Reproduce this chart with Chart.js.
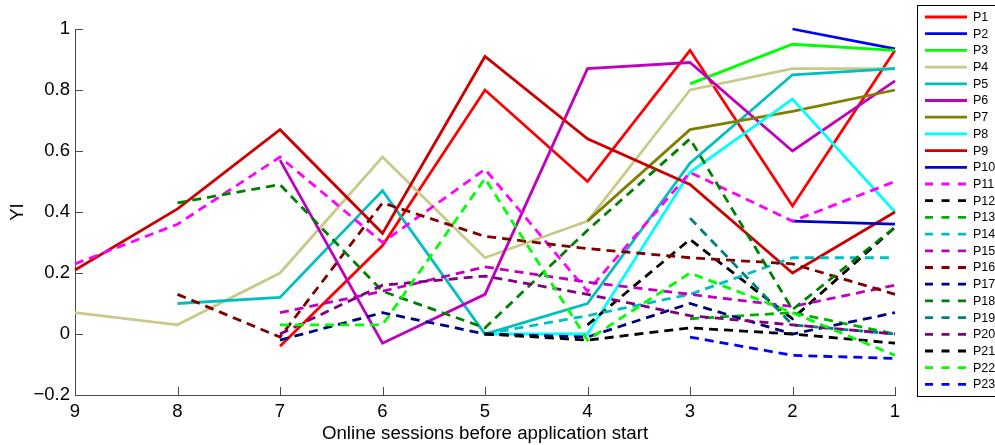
<!DOCTYPE html>
<html>
<head>
<meta charset="utf-8">
<script src="https://cdn.jsdelivr.net/npm/chart.js@4/dist/chart.umd.min.js"></script>
<style>
  html, body { margin: 0; padding: 0; background: #ffffff; }
  #wrap { width: 995px; height: 445px; }
</style>
</head>
<body>
<div id="wrap"><canvas id="chart" width="995" height="445"></canvas></div>
<script>
// Sessions counted backwards from the application start
const sessions = [9, 8, 7, 6, 5, 4, 3, 2, 1];

// YI per participant, one value per session (null = no session)
const p1  = [null, null, -0.04, 0.29, 0.80, 0.50, 0.93, 0.42, 0.93];
const p2  = [null, null, null, null, null, null, null, 1.00, 0.935];
const p3  = [null, null, null, null, null, null, 0.82, 0.95, 0.93];
const p4  = [0.07, 0.03, 0.20, 0.58, 0.25, 0.37, 0.80, 0.87, 0.87];
const p5  = [null, 0.10, 0.12, 0.47, 0.00, 0.10, 0.56, 0.85, 0.87];
const p6  = [null, null, 0.57, -0.03, 0.13, 0.87, 0.89, 0.60, 0.83];
const p7  = [null, null, null, null, null, 0.37, 0.67, 0.73, 0.80];
const p8  = [null, null, null, null, 0.00, 0.00, 0.53, 0.77, 0.40];
const p9  = [0.21, 0.41, 0.67, 0.33, 0.91, 0.64, 0.49, 0.20, 0.40];
const p10 = [null, null, null, null, null, null, null, 0.37, 0.36];
const p11 = [0.23, 0.36, 0.58, 0.30, 0.54, 0.14, 0.53, 0.37, 0.50];
const p12 = [null, null, null, null, null, 0.03, 0.31, 0.05, 0.35];
const p13 = [null, null, null, null, null, null, 0.05, 0.07, 0.00];
const p14 = [null, null, null, null, 0.00, 0.06, 0.13, 0.25, 0.25];
const p15 = [null, null, 0.07, 0.14, 0.22, 0.17, 0.13, 0.09, 0.16];
const p16 = [null, 0.13, -0.01, 0.43, 0.32, 0.28, 0.25, 0.23, 0.13];
const p17 = [null, null, -0.02, 0.07, 0.00, -0.01, 0.10, 0.00, 0.07];
const p18 = [null, 0.43, 0.49, 0.14, 0.02, 0.34, 0.64, 0.08, 0.35];
const p19 = [null, null, null, null, null, null, 0.38, 0.03, 0.00];
const p20 = [null, null, 0.00, 0.16, 0.19, 0.13, 0.06, 0.03, 0.00];
const p21 = [null, null, null, null, 0.00, -0.02, 0.02, 0.00, -0.03];
const p22 = [null, null, 0.03, 0.03, 0.51, -0.02, 0.20, 0.07, -0.07];
const p23 = [null, null, null, null, null, null, -0.01, -0.07, -0.08];

const seriesNames = ['P1','P2','P3','P4','P5','P6','P7','P8','P9','P10','P11','P12',
                     'P13','P14','P15','P16','P17','P18','P19','P20','P21','P22','P23'];
const seriesValues = [p1,p2,p3,p4,p5,p6,p7,p8,p9,p10,p11,p12,p13,p14,p15,p16,p17,p18,p19,p20,p21,p22,p23];

// Axis ticks
const xTicks = [9, 8, 7, 6, 5, 4, 3, 2, 1];
const yTicks = [-0.2, 0, 0.2, 0.4, 0.6, 0.8, 1];

// Line styling
const seriesColors = ['#ff0000','#0000ff','#00ff00','#c9c98a','#00bfbf','#bf00bf','#808000',
                      '#00ffff','#cc0000','#0000cc','#ff00ff','#000000','#00b000','#00bfbf',
                      '#bf00bf','#800000','#000080','#008000','#008080','#800080','#000000',
                      '#00ff00','#0000ff'];
const seriesDashed = seriesNames.map((_, i) => i >= 10);
const DASH = [9, 6];
const LINE_W = 2.8;
const AXIS_COLOR = '#4a4a4a';
const FONT = "'Liberation Sans', Arial, Helvetica, sans-serif";

Chart.defaults.font.family = FONT;
Chart.defaults.color = '#000000';

const datasets = seriesNames.map((name, i) => ({
  label: name,
  data: sessions.map((s, k) => ({ x: s, y: seriesValues[i][k] })).filter(p => p.y !== null),
  borderColor: seriesColors[i],
  backgroundColor: seriesColors[i],
  borderWidth: LINE_W,
  borderDash: seriesDashed[i] ? DASH : [],
  pointRadius: 0,
  pointHoverRadius: 0,
  tension: 0,
  fill: false,
  clip: false,
  order: seriesNames.length - i   // later participants drawn on top
}));

// Tick marks pointing into the plot area
const inwardTicks = {
  id: 'inwardTicks',
  beforeDatasetsDraw(chart) {
    const { ctx, chartArea: a, scales: { x, y } } = chart;
    ctx.save();
    ctx.strokeStyle = AXIS_COLOR;
    ctx.lineWidth = 1;
    ctx.beginPath();
    yTicks.forEach(v => {
      const py = Math.round(y.getPixelForValue(v)) + 0.5;
      ctx.moveTo(a.left, py);
      ctx.lineTo(a.left + 8, py);
    });
    xTicks.forEach(v => {
      const px = Math.round(x.getPixelForValue(v)) + 0.5;
      ctx.moveTo(px, a.bottom);
      ctx.lineTo(px, a.bottom - 8);
    });
    ctx.stroke();
    ctx.restore();
  }
};

// Boxed legend to the right of the axes
const boxedLegend = {
  id: 'boxedLegend',
  afterDraw(chart) {
    const { ctx } = chart;
    const left = 917.5, top = 5.5, bottom = 396.5, right = 1010;
    const rowH = 16.7, firstY = 17;
    ctx.save();
    ctx.fillStyle = '#ffffff';
    ctx.fillRect(left, top, right - left, bottom - top);
    ctx.strokeStyle = '#000000';
    ctx.lineWidth = 1;
    ctx.strokeRect(left, top, right - left, bottom - top);
    ctx.font = '12.5px ' + FONT;
    ctx.textBaseline = 'middle';
    ctx.textAlign = 'left';
    chart.data.datasets.forEach((ds, i) => {
      const yy = firstY + i * rowH;
      ctx.strokeStyle = ds.borderColor;
      ctx.lineWidth = LINE_W;
      ctx.setLineDash(ds.borderDash.length ? [8, 8.5] : []);
      ctx.beginPath();
      ctx.moveTo(925, yy);
      ctx.lineTo(967, yy);
      ctx.stroke();
      ctx.setLineDash([]);
      ctx.fillStyle = '#000000';
      ctx.fillText(ds.label, 973, yy + 0.5);
    });
    ctx.restore();
  }
};

new Chart(document.getElementById('chart'), {
  type: 'line',
  data: { datasets },
  options: {
    responsive: false,
    devicePixelRatio: 1,
    animation: false,
    events: [],
    layout: { padding: { left: 0, top: 29, right: 100, bottom: 0 } },
    plugins: {
      legend: { display: false },
      tooltip: { enabled: false },
      title: { display: false }
    },
    scales: {
      x: {
        type: 'linear',
        reverse: true,
        min: 1,
        max: 9,
        afterBuildTicks: s => { s.ticks = xTicks.map(v => ({ value: v })); },
        afterFit: s => { s.height = 50; },
        grid: { display: false, drawTicks: false },
        border: { display: true, color: AXIS_COLOR, width: 1 },
        ticks: {
          padding: 6,
          maxRotation: 0,
          font: { size: 18.5 },
          color: '#000000',
          callback: v => String(v)
        },
        title: {
          display: true,
          text: 'Online sessions before application start',
          font: { size: 18.7 },
          color: '#000000',
          padding: { top: 0, bottom: 0 }
        }
      },
      y: {
        type: 'linear',
        min: -0.2,
        max: 1,
        afterBuildTicks: s => { s.ticks = yTicks.map(v => ({ value: v })); },
        afterFit: s => { s.width = 75; },
        grid: { display: false, drawTicks: false },
        border: { display: true, color: AXIS_COLOR, width: 1 },
        ticks: {
          padding: 5,
          font: { size: 18.5 },
          color: '#000000',
          callback: v => {
            const r = Math.round(v * 10) / 10;
            return (r < 0 ? '\u2212' : '') + String(Math.abs(r));
          }
        },
        title: {
          display: true,
          text: 'YI',
          font: { size: 18.5 },
          color: '#000000',
          padding: { top: 7, bottom: 0 }
        }
      }
    }
  },
  plugins: [inwardTicks, boxedLegend]
});
</script>
</body>
</html>
